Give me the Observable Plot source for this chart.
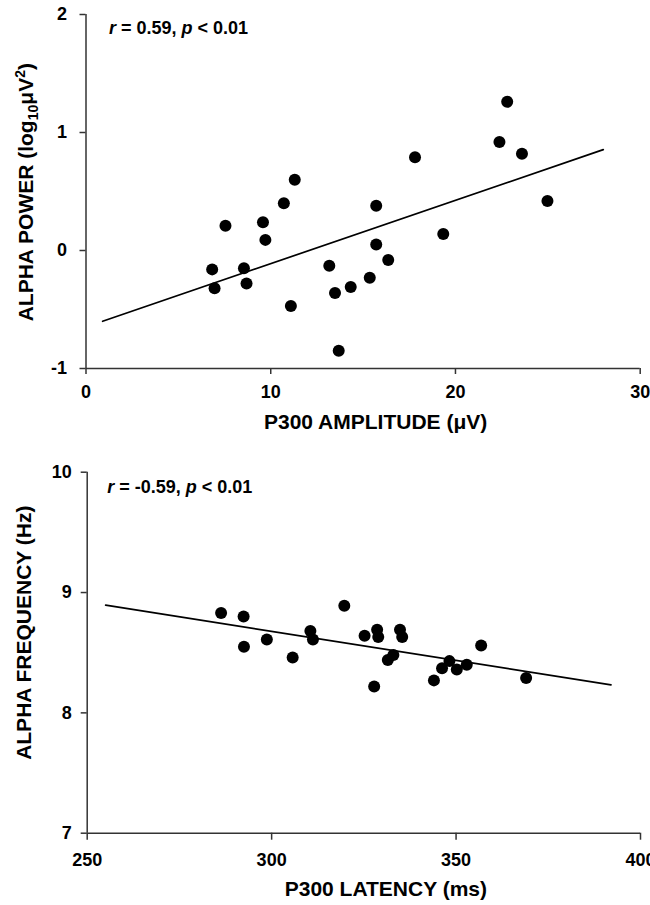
<!DOCTYPE html>
<html><head><meta charset="utf-8">
<script src="https://cdn.jsdelivr.net/npm/d3@7"></script>
<script src="https://cdn.jsdelivr.net/npm/@observablehq/plot@0.6"></script>
<style>
html,body{margin:0;padding:0;background:#fff;}
#chart{width:650px;}
#chart svg{display:block;}
</style></head><body><div id="chart"></div>
<script>
// ---- Panel A: P300 amplitude vs alpha power ----
const ampX = [6.83, 6.96, 7.55, 8.55, 8.69, 9.58, 9.71, 10.71, 11.09, 11.30, 13.17, 13.48, 13.68, 14.33, 15.36, 15.71, 15.71, 16.36, 17.81, 19.34, 22.38, 22.80, 23.60, 24.98];
const powY = [-0.16, -0.32, 0.21, -0.15, -0.28, 0.24, 0.09, 0.40, -0.47, 0.60, -0.13, -0.36, -0.85, -0.31, -0.23, 0.38, 0.05, -0.08, 0.79, 0.14, 0.92, 1.26, 0.82, 0.42];
const ampFitX = [0.9, 28];
const ampFitY = [-0.60, 0.855];
const ampTicks = [0, 10, 20, 30];
const powTicks = [-1, 0, 1, 2];

// ---- Panel B: P300 latency vs alpha frequency ----
const latX = [286.3, 292.4, 292.5, 298.7, 305.7, 310.5, 311.2, 319.7, 325.2, 328.6, 328.9, 334.8, 335.4, 333.0, 331.5, 327.8, 344.0, 346.2, 348.2, 350.2, 352.9, 356.8, 369.0];
const freqY = [8.83, 8.80, 8.55, 8.61, 8.46, 8.68, 8.61, 8.89, 8.64, 8.69, 8.63, 8.69, 8.63, 8.48, 8.44, 8.22, 8.27, 8.37, 8.43, 8.36, 8.40, 8.56, 8.29];
const latFitX = [255, 392];
const latFitY = [8.895, 8.233];
const latTicks = [250, 300, 350, 400];
const freqTicks = [7, 8, 9, 10];

// ---- Text ----
const stats = ["r = 0.59, p < 0.01", "r = -0.59, p < 0.01"];
const titlesX = ["P300 AMPLITUDE (μV)", "P300 LATENCY (ms)"];
const titlesY = ["ALPHA POWER (log10μV2)", "ALPHA FREQUENCY (Hz)"];

const FONT = "'Liberation Sans', Arial, Helvetica, sans-serif";
const fmt = d => String(d);

function panel(o) {
  const pts = o.xs.map((x, i) => ({x, y: o.ys[i]}));
  const fit = o.fitX.map((x, i) => ({x, y: o.fitY[i]}));
  return Plot.plot({
    width: 650, height: o.height,
    marginTop: o.mt, marginBottom: o.mb, marginLeft: o.ml, marginRight: o.mr,
    style: {fontFamily: FONT, fontWeight: "bold", fontSize: "18px", color: "#000", background: "#fff", overflow: "hidden"},
    x: {domain: [o.xTicks[0], o.xTicks[o.xTicks.length - 1]]},
    y: {domain: [o.yTicks[0], o.yTicks[o.yTicks.length - 1]]},
    marks: [
      Plot.ruleX([o.xTicks[0]], {stroke: "#333", strokeWidth: 1.5}),
      Plot.ruleY([o.yTicks[0]], {stroke: "#333", strokeWidth: 1.5}),
      Plot.axisX({ticks: o.xTicks, tickFormat: fmt, tickSize: o.xTickSize, tickPadding: o.xTickPad, label: null, stroke: "#333", strokeWidth: 1.5, fontSize: 18, fontWeight: "bold", fill: "#000"}),
      Plot.axisY({ticks: o.yTicks, tickFormat: fmt, tickSize: 6, tickPadding: o.yTickPad, label: null, stroke: "#333", strokeWidth: 1.5, fontSize: 18, fontWeight: "bold", fill: "#000"}),
      Plot.line(fit, {x: "x", y: "y", stroke: "#000", strokeWidth: 1.7}),
      Plot.dot(pts, {x: "x", y: "y", r: 6, fill: "#000", stroke: "none"}),
      Plot.text([o.stat], {text: d => d, frameAnchor: "top-left", textAnchor: "start", lineAnchor: "middle", dx: o.statDx, dy: o.statDy, fontSize: 18, fontWeight: "bold", fill: "#000"}),
      Plot.text([o.xTitle], {text: d => d, frameAnchor: "bottom", textAnchor: "middle", lineAnchor: "middle", dx: o.xtDx, dy: o.xtDy, fontSize: 21, fontWeight: "bold", fill: "#000"}),
      Plot.text([o.yTitle], {text: d => d, frameAnchor: "left", textAnchor: "middle", lineAnchor: "middle", rotate: -90, dx: o.ytDx, dy: o.ytDy, fontSize: 21, fontWeight: "bold", fill: "#000"})
    ]
  });
}

function styleTexts(svg) {
  svg.querySelectorAll("text").forEach(t => {
    const s = t.textContent;
    if (s.startsWith("r = ")) {
      const m = s.match(/^r( = .*, )p( .*)$/);
      if (m) {
        t.textContent = "";
        const add = (txt, it) => {
          const ts = document.createElementNS("http://www.w3.org/2000/svg", "tspan");
          ts.textContent = txt;
          if (it) ts.setAttribute("font-style", "italic");
          t.appendChild(ts);
        };
        add("r", true); add(m[1], false); add("p", true); add(m[2], false);
      }
    } else if (s.includes("log10μV2")) {
      t.textContent = "";
      const add = (txt, attrs) => {
        const ts = document.createElementNS("http://www.w3.org/2000/svg", "tspan");
        ts.textContent = txt;
        for (const k in attrs) ts.setAttribute(k, attrs[k]);
        t.appendChild(ts);
      };
      add("ALPHA POWER (log", {});
      add("10", {"font-size": "14", dy: "5"});
      add("μV", {dy: "-5"});
      add("2", {"font-size": "14", dy: "-8"});
      add(")", {dy: "8"});
    }
  });
}

const panelTop = panel({
  xs: ampX, ys: powY, fitX: ampFitX, fitY: ampFitY, xTicks: ampTicks, yTicks: powTicks,
  height: 440, mt: 14, mb: 72, ml: 85.5, mr: 10.3,
  xTickSize: 6, xTickPad: 11, yTickPad: 13,
  stat: stats[0], statDx: 23, statDy: 14,
  xTitle: titlesX[0], xtDx: 12.5, xtDy: 53.5,
  yTitle: titlesY[0], ytDx: -60, ytDy: 0.7
});
const panelBottom = panel({
  xs: latX, ys: freqY, fitX: latFitX, fitY: latFitY, xTicks: latTicks, yTicks: freqTicks,
  height: 465, mt: 31.7, mb: 72.3, ml: 86.7, mr: 10,
  xTickSize: 7, xTickPad: 13, yTickPad: 9.5,
  stat: stats[1], statDx: 20, statDy: 15,
  xTitle: titlesX[1], xtDx: 22, xtDy: 56,
  yTitle: titlesY[1], ytDx: -62.7, ytDy: -20
});
styleTexts(panelTop); styleTexts(panelBottom);
document.getElementById("chart").append(panelTop, panelBottom);
</script></body></html>
